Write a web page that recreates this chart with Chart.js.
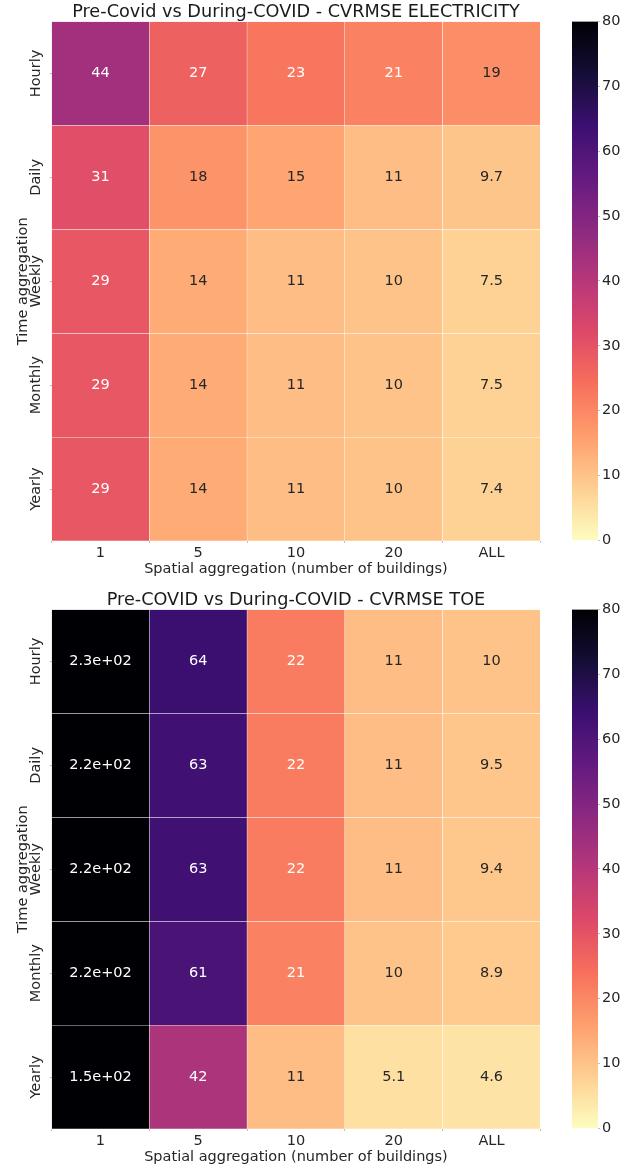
<!DOCTYPE html>
<html>
<head>
<meta charset="utf-8">
<script src="https://cdn.jsdelivr.net/npm/chart.js@4.4.1/dist/chart.umd.min.js"></script>
<style>
  html, body { margin: 0; padding: 0; background: #ffffff; }
  #wrap { position: relative; width: 632px; height: 1169px; overflow: hidden; background: #ffffff; }
  canvas { position: absolute; }
</style>
</head>
<body>
<div id="wrap">
  <canvas id="heat1" width="560" height="590" style="left:0;top:0"></canvas>
  <canvas id="bar1" width="84" height="551" style="left:548px;top:0"></canvas>
  <canvas id="heat2" width="560" height="590" style="left:0;top:588px"></canvas>
  <canvas id="bar2" width="84" height="551" style="left:548px;top:588px"></canvas>
</div>
<script>
// ---------------- DATA ----------------
const spatialLabels = ['1', '5', '10', '20', 'ALL'];
const timeLabels = ['Hourly', 'Daily', 'Weekly', 'Monthly', 'Yearly'];
const colorbarTicks = [0, 10, 20, 30, 40, 50, 60, 70, 80];

const elecHourly  = [44, 27, 23, 21, 19];
const elecDaily   = [31, 18, 15, 11, 9.7];
const elecWeekly  = [29, 14, 11, 10, 7.5];
const elecMonthly = [29, 14, 11, 10, 7.5];
const elecYearly  = [29, 14, 11, 10, 7.4];

const toeHourly  = [230, 64, 22, 11, 10];
const toeDaily   = [220, 63, 22, 11, 9.5];
const toeWeekly  = [220, 63, 22, 11, 9.4];
const toeMonthly = [220, 61, 21, 10, 8.9];
const toeYearly  = [150, 42, 11, 5.1, 4.6];

const elecRows = [elecHourly, elecDaily, elecWeekly, elecMonthly, elecYearly];
const toeRows = [toeHourly, toeDaily, toeWeekly, toeMonthly, toeYearly];

const titleElec = 'Pre-Covid vs During-COVID - CVRMSE ELECTRICITY';
const titleToe = 'Pre-COVID vs During-COVID - CVRMSE TOE';
const xTitle = 'Spatial aggregation (number of buildings)';
const yTitle = 'Time aggregation';

// ---------------- COLORMAP (magma) ----------------
const magmaStops = ['#000004', '#140e36', '#3b0f70', '#641a80', '#8c2981', '#b73779',
                    '#de4968', '#f7705c', '#fe9f6d', '#fecf92', '#fcfdbf'];
const VMIN = 0, VMAX = 80;
function hexToRgb(h) { return [parseInt(h.slice(1, 3), 16), parseInt(h.slice(3, 5), 16), parseInt(h.slice(5, 7), 16)]; }
const magmaRgb = magmaStops.map(hexToRgb);
function magma(t) {
  t = Math.max(0, Math.min(1, t));
  const p = t * (magmaRgb.length - 1);
  const i = Math.min(Math.floor(p), magmaRgb.length - 2);
  const f = p - i;
  const a = magmaRgb[i], b = magmaRgb[i + 1];
  return 'rgb(' + [0, 1, 2].map(k => Math.round(a[k] + (b[k] - a[k]) * f)).join(',') + ')';
}
function colorFor(v) { return magma(1 - (v - VMIN) / (VMAX - VMIN)); } // magma_r
function textColorFor(v) { return v >= 20 ? '#ffffff' : '#262626'; }

function fmt2g(v) {
  if (v === 0) return '0';
  const e = Math.floor(Math.log10(Math.abs(v)));
  if (e < -4 || e >= 2) {
    let [m, ex] = v.toExponential(1).split('e');
    m = m.replace(/\.0$/, '');
    const sign = ex[0] === '-' ? '-' : '+';
    let digits = ex.replace(/^[+-]/, '');
    if (digits.length < 2) digits = '0' + digits;
    return m + 'e' + sign + digits;
  }
  let s = v.toPrecision(2);
  if (s.indexOf('.') >= 0) s = s.replace(/0+$/, '').replace(/\.$/, '');
  return s;
}

// ---------------- CHART SETUP ----------------
const FONT = 'DejaVu Sans';
const TXT = '#262626';
Chart.defaults.font.family = FONT;
Chart.defaults.color = TXT;

const annotPlugin = {
  id: 'cellAnnot',
  afterDatasetsDraw(chart, args, opts) {
    const ctx = chart.ctx;
    ctx.save();
    ctx.font = '14.5px "' + FONT + '"';
    ctx.textAlign = 'center';
    ctx.textBaseline = 'middle';
    chart.data.datasets.forEach((ds, i) => {
      const meta = chart.getDatasetMeta(i);
      meta.data.forEach((el, j) => {
        const v = ds.values[j];
        ctx.fillStyle = textColorFor(v);
        ctx.fillText(fmt2g(v), el.x, (el.y + el.base) / 2);
      });
    });
    ctx.restore();
  }
};

function makeHeatmap(canvasId, rows, title) {
  const datasets = rows.map((row, i) => ({
    label: timeLabels[i],
    values: row,
    data: row.map(() => [i, i + 1]),
    backgroundColor: row.map(colorFor),
    borderColor: 'rgba(255,255,255,0.85)',
    borderWidth: 0.5,
    borderSkipped: false,
    grouped: false,
    barPercentage: 1,
    categoryPercentage: 1
  }));
  return new Chart(document.getElementById(canvasId), {
    type: 'bar',
    data: { labels: spatialLabels, datasets },
    plugins: [annotPlugin],
    options: {
      responsive: false,
      animation: false,
      devicePixelRatio: 1,
      layout: { padding: { left: 0, right: 19.7, top: 0, bottom: 0 } },
      plugins: {
        legend: { display: false },
        tooltip: { enabled: false },
        title: {
          display: true,
          text: title,
          fullSize: false,
          color: '#1a1a1a',
          font: { size: 17.7, weight: 'normal', lineHeight: 1.2 },
          padding: { top: 2, bottom: -1.7 }
        }
      },
      scales: {
        x: {
          type: 'category',
          offset: true,
          grid: { display: true, drawOnChartArea: false, drawTicks: true, tickLength: 2, color: '#c0c0c0' },
          border: { display: false },
          ticks: { font: { size: 14.5 }, color: TXT, padding: 1.5, maxRotation: 0, autoSkip: false },
          title: { display: true, text: xTitle, color: TXT, font: { size: 14.5 }, padding: { top: 0, bottom: 12.3 } },
          afterFit: (s) => { s.height = 49; }
        },
        y: {
          type: 'linear',
          min: 0, max: 5,
          reverse: true,
          afterBuildTicks: (axis) => { axis.ticks = timeLabels.map((_, i) => ({ value: i + 0.5 })); },
          grid: { display: true, drawOnChartArea: false, drawTicks: true, tickLength: 2, color: '#c0c0c0' },
          border: { display: false },
          ticks: {
            font: { size: 14.5 }, color: TXT,
            minRotation: 90, maxRotation: 90,
            crossAlign: 'center',
            padding: -15.4,
            autoSkip: false,
            callback: (v) => timeLabels[Math.floor(v)]
          },
          title: { display: true, text: yTitle, color: TXT, font: { size: 14.5 }, padding: { top: 14.3, bottom: 0 } },
          afterFit: (s) => { s.width = 51.6; }
        }
      }
    }
  });
}

function makeColorbar(canvasId) {
  return new Chart(document.getElementById(canvasId), {
    type: 'bar',
    data: {
      labels: [''],
      datasets: [{
        data: [[VMIN, VMAX]],
        borderWidth: 0,
        barPercentage: 1,
        categoryPercentage: 1,
        backgroundColor: (c) => {
          const chart = c.chart;
          const ys = chart.scales.y;
          if (!chart.chartArea || !ys) return null;
          const g = chart.ctx.createLinearGradient(0, ys.getPixelForValue(VMIN), 0, ys.getPixelForValue(VMAX));
          for (let k = 0; k <= 40; k++) {
            const t = k / 40;
            g.addColorStop(t, colorFor(VMIN + t * (VMAX - VMIN)));
          }
          return g;
        }
      }]
    },
    options: {
      responsive: false,
      animation: false,
      devicePixelRatio: 1,
      layout: { padding: { left: 24, right: 0, top: 21.5, bottom: 10 } },
      plugins: { legend: { display: false }, tooltip: { enabled: false }, title: { display: false } },
      scales: {
        x: { display: false },
        y: {
          position: 'right',
          min: VMIN, max: VMAX,
          afterBuildTicks: (axis) => { axis.ticks = colorbarTicks.map(v => ({ value: v })); },
          grid: { display: true, drawOnChartArea: false, drawTicks: true, tickLength: 2, color: '#c0c0c0' },
          border: { display: false },
          ticks: { font: { size: 14.5 }, color: TXT, padding: 2, autoSkip: false },
          afterFit: (s) => { s.width = 34; }
        }
      }
    }
  });
}

makeHeatmap('heat1', elecRows, titleElec);
makeColorbar('bar1');
makeHeatmap('heat2', toeRows, titleToe);
makeColorbar('bar2');
</script>
</body>
</html>
